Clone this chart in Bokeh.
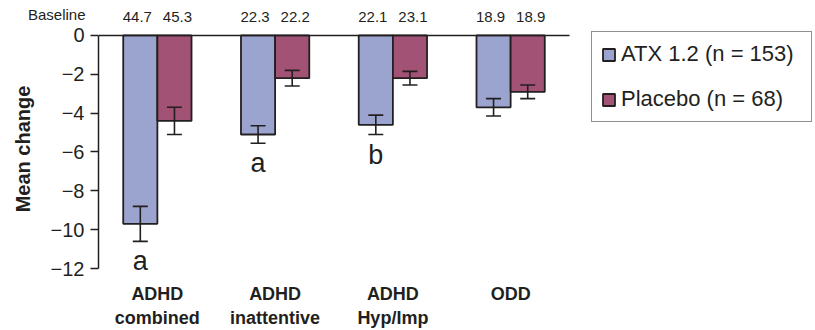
from bokeh.plotting import figure
from bokeh.layouts import column
from bokeh.models import (ColumnDataSource, Range1d, FixedTicker, Whisker, TeeHead,
                          Legend, LegendItem)
from bokeh.core.properties import value
from bokeh.embed import file_html
from bokeh.resources import INLINE

# ---- data ----
categories = ["ADHD\ncombined", "ADHD\ninattentive", "ADHD\nHyp/Imp", "ODD"]
atx_change = [-9.7, -5.1, -4.6, -3.7]
atx_se = [0.9, 0.45, 0.5, 0.45]
pbo_change = [-4.4, -2.2, -2.2, -2.9]
pbo_se = [0.7, 0.4, 0.35, 0.35]
atx_baseline = ["44.7", "22.3", "22.1", "18.9"]
pbo_baseline = ["45.3", "22.2", "23.1", "18.9"]
atx_letters = ["a", "a", "b", ""]
series_names = ["ATX 1.2 (n = 153)", "Placebo (n = 68)"]
baseline_title = "Baseline"
y_ticks = [0, -2, -4, -6, -8, -10, -12]

FONT = "Liberation Sans"
DARK = "#231F20"
ATX_COLOR = "#9BA4CE"
PBO_COLOR = "#A25274"

groups = list(range(1, len(categories) + 1))
dodge = 0.145
bar_w = 0.29
x_lo, x_hi = groups[0] - 0.5, groups[-1] + 0.5
X_END = 6.589
Y_LO, Y_HI = -12.256, 0.564
ROW_Y = 0.304  # vertical position of the baseline row in the strip

atx_x = [g - dodge for g in groups]
pbo_x = [g + dodge for g in groups]

atx_src = ColumnDataSource(dict(
    x=atx_x, top=[0] * len(groups), bottom=atx_change,
    upper=[v + s for v, s in zip(atx_change, atx_se)],
    lower=[v - s for v, s in zip(atx_change, atx_se)],
    letter=atx_letters))
pbo_src = ColumnDataSource(dict(
    x=pbo_x, top=[0] * len(groups), bottom=pbo_change,
    upper=[v + s for v, s in zip(pbo_change, pbo_se)],
    lower=[v - s for v, s in zip(pbo_change, pbo_se)]))

# ---------- top strip: baseline values ----------
top = figure(width=815, height=24, output_backend="svg", toolbar_location=None,
             x_range=Range1d(x_lo, X_END), y_range=Range1d(0, 1),
             x_axis_location=None,
             min_border_left=98, min_border_right=0, min_border_top=0, min_border_bottom=0)
top.outline_line_color = None
top.xgrid.visible = False
top.ygrid.visible = False
top.text(x=atx_x, y=[ROW_Y] * len(groups), text=atx_baseline, x_offset=-3,
         text_align="center", text_baseline="middle",
         text_font=value(FONT), text_font_size="15px", text_color=DARK)
top.text(x=pbo_x, y=[ROW_Y] * len(groups), text=pbo_baseline, x_offset=3,
         text_align="center", text_baseline="middle",
         text_font=value(FONT), text_font_size="15px", text_color=DARK)
tax = top.yaxis[0]
tax.ticker = FixedTicker(ticks=[ROW_Y])
tax.major_label_overrides = {ROW_Y: baseline_title}
tax.major_label_text_font = FONT
tax.major_label_text_font_size = "15px"
tax.major_label_text_color = DARK
tax.major_label_standoff = 7
tax.axis_line_color = None
tax.major_tick_line_color = None
tax.minor_tick_line_color = None

# ---------- main chart ----------
p = figure(width=815, height=306, output_backend="svg", toolbar_location=None,
           x_range=Range1d(x_lo, X_END), y_range=Range1d(Y_LO, Y_HI),
           min_border_left=98, min_border_right=0, min_border_top=0, min_border_bottom=56)
p.outline_line_color = None
p.xgrid.visible = False
p.ygrid.visible = False

r_atx = p.vbar(x="x", top="top", bottom="bottom", width=bar_w, source=atx_src,
               fill_color=ATX_COLOR, line_color=DARK, line_width=1.8)
r_pbo = p.vbar(x="x", top="top", bottom="bottom", width=bar_w, source=pbo_src,
               fill_color=PBO_COLOR, line_color=DARK, line_width=1.8)

for src in (atx_src, pbo_src):
    p.add_layout(Whisker(source=src, base="x", upper="upper", lower="lower",
                         line_color=DARK, line_width=1.6, level="overlay",
                         upper_head=TeeHead(size=15, line_color=DARK, line_width=1.6),
                         lower_head=TeeHead(size=15, line_color=DARK, line_width=1.6)))

# zero line across the category area
p.segment(x0=[x_lo], x1=[x_hi], y0=[0], y1=[0], line_color=DARK, line_width=1.5)

# significance letters
p.text(x="x", y="lower", text="letter", source=atx_src, y_offset=20,
       text_align="center", text_baseline="alphabetic",
       text_font=value(FONT), text_font_size="27px", text_color=DARK)

# y axis
yax = p.yaxis[0]
yax.bounds = (-12, 0)
yax.ticker = FixedTicker(ticks=y_ticks)
yax.major_label_overrides = {t: ("0" if t == 0 else "\u2212" + str(abs(t))) for t in y_ticks}
yax.axis_label = "Mean change"
yax.axis_label_text_font = FONT
yax.axis_label_text_font_style = "bold"
yax.axis_label_text_font_size = "20px"
yax.axis_label_text_color = DARK
yax.axis_label_standoff = 14
yax.major_label_text_font = FONT
yax.major_label_text_font_size = "20px"
yax.major_label_text_color = DARK
yax.major_label_standoff = 6
yax.major_tick_out = 8
yax.major_tick_in = 0
yax.minor_tick_line_color = None
yax.axis_line_color = DARK
yax.axis_line_width = 1.5
yax.major_tick_line_color = DARK
yax.major_tick_line_width = 1.5

# x axis (category labels only)
xax = p.xaxis[0]
xax.ticker = FixedTicker(ticks=groups)
xax.major_label_overrides = {g: c for g, c in zip(groups, categories)}
xax.major_label_text_font = FONT
xax.major_label_text_font_style = "bold"
xax.major_label_text_font_size = "18px"
xax.major_label_text_color = DARK
xax.major_label_standoff = 4
xax.axis_line_color = None
xax.major_tick_line_color = None
xax.minor_tick_line_color = None

legend = Legend(items=[LegendItem(label=series_names[0], renderers=[r_atx]),
                       LegendItem(label=series_names[1], renderers=[r_pbo])],
                location=(493, 151), margin=0, padding=9, spacing=19,
                glyph_width=15, glyph_height=15, label_standoff=5,
                label_width=181, label_height=24,
                label_text_font=FONT, label_text_font_size="22px", label_text_color=DARK,
                border_line_color=DARK, border_line_width=1, background_fill_alpha=1)
p.add_layout(legend)

layout = column(top, p, spacing=0)
open("out.html", "w").write(file_html(layout, INLINE))
